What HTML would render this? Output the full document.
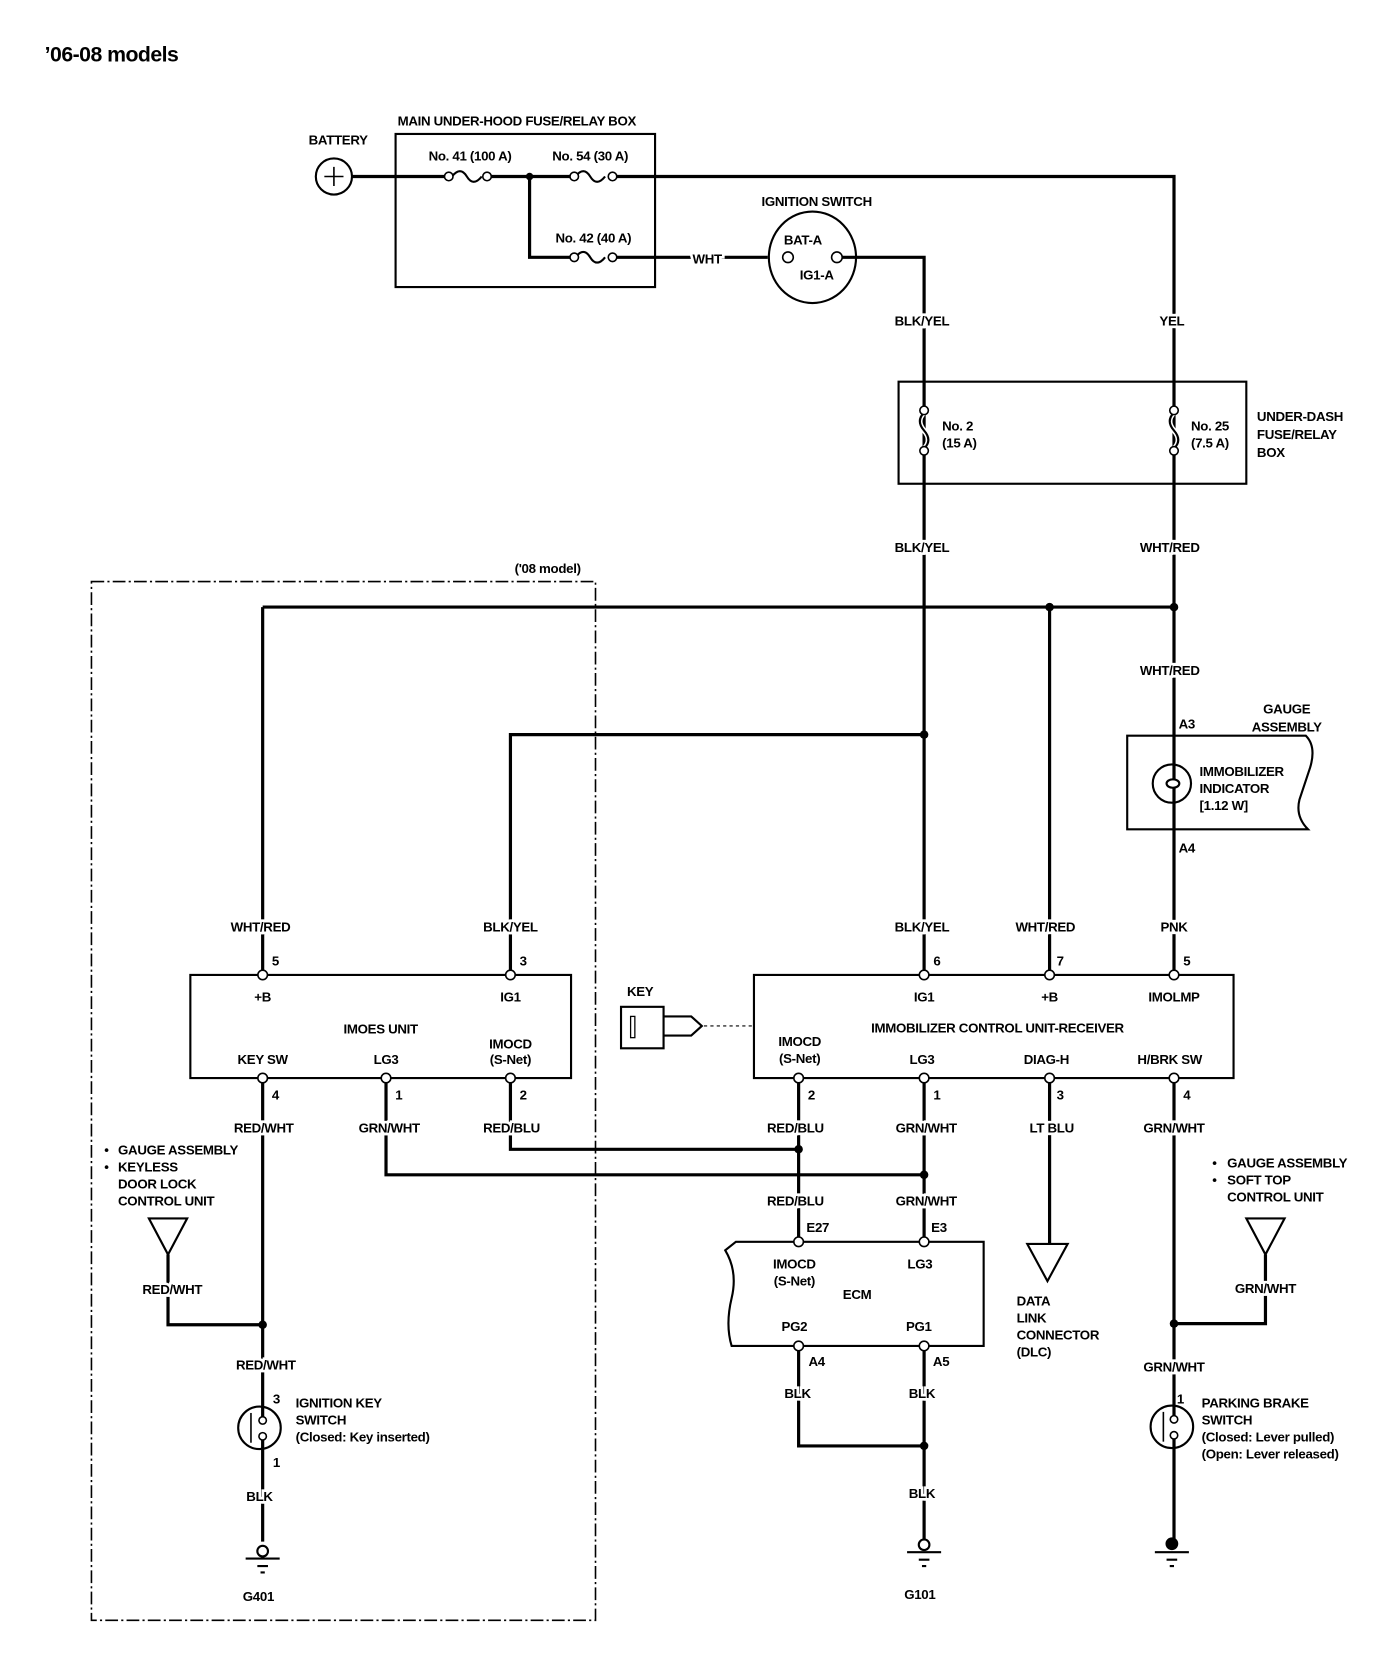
<!DOCTYPE html>
<html><head><meta charset="utf-8"><style>
html,body{margin:0;padding:0;background:#fff;}
svg{display:block;}
text{font-family:"Liberation Sans Narrow","Liberation Sans",sans-serif;font-weight:bold;font-size:12.5px;fill:#000;letter-spacing:-0.3px;}
.l{text-anchor:middle;stroke:#fff;stroke-width:5px;paint-order:stroke;}
.c{text-anchor:middle;}
.w{stroke:#000;stroke-width:3;fill:none;}
.t{stroke:#000;stroke-width:2;fill:none;}
.p{fill:#fff;stroke:#000;stroke-width:1.5;}
</style></head><body>
<svg width="1392" height="1666" viewBox="0 0 1309 1567" preserveAspectRatio="none" xmlns="http://www.w3.org/2000/svg">
<text x="42" y="58" style="font-size:20px;font-family:'Liberation Sans',sans-serif;letter-spacing:-0.5px">’06-08 models</text>

<!-- main underhood box -->
<rect x="372" y="126" width="244" height="144" class="t"/>
<text x="486" y="118" class="c">MAIN UNDER-HOOD FUSE/RELAY BOX</text>
<circle cx="314" cy="166" r="17" class="t"/>
<path d="M305 166h18M314 157v18" stroke="#000" stroke-width="1.5"/>
<text x="318" y="136" class="c">BATTERY</text>
<path d="M331 166H418M460 166H538M580 166H1104V917M1104 1014V1450" class="w"/>
<path d="M498 166V242H538M580 242H722" class="w"/>
<path d="M425 166q8 -10 14 0t14 0" class="t"/><circle cx="422" cy="166" r="4" class="p"/><circle cx="458" cy="166" r="4" class="p"/>
<path d="M541 166q8 -10 14 0t14 0" class="t"/><circle cx="540" cy="166" r="4" class="p"/><circle cx="576" cy="166" r="4" class="p"/>
<path d="M541 242q8 -10 14 0t14 0" class="t"/><circle cx="540" cy="242" r="4" class="p"/><circle cx="576" cy="242" r="4" class="p"/>
<circle cx="498" cy="166" r="3.5"/>
<text x="442" y="151" class="c">No. 41 (100 A)</text>
<text x="555" y="151" class="c">No. 54 (30 A)</text>
<text x="558" y="228" class="c">No. 42 (40 A)</text>
<text x="665" y="248" class="l">WHT</text>
<!-- ignition switch -->
<ellipse cx="764" cy="242" rx="41" ry="43" class="t"/>
<circle cx="741" cy="242" r="5" class="p"/><circle cx="787" cy="242" r="5" class="p"/>
<text x="768" y="194" class="c">IGNITION SWITCH</text>
<text x="755" y="230" class="c">BAT-A</text>
<text x="768" y="263" class="c">IG1-A</text>
<path d="M792 242H869V917" class="w"/>
<text x="867" y="306" class="l">BLK/YEL</text>
<text x="1102" y="306" class="l">YEL</text>
<!-- under dash -->
<rect x="845" y="359" width="327" height="96" class="t"/>
<path d="M869 388q-8 8 0 17t0 17" class="t" style="stroke:#fff;stroke-width:5"/>
<path d="M869 388q-8 8 0 17t0 17" class="t"/>
<path d="M1104 388q-8 8 0 17t0 17" class="t" style="stroke:#fff;stroke-width:5"/>
<path d="M1104 388q-8 8 0 17t0 17" class="t"/>
<circle cx="869" cy="386" r="4" class="p"/><circle cx="869" cy="424" r="4" class="p"/>
<circle cx="1104" cy="386" r="4" class="p"/><circle cx="1104" cy="424" r="4" class="p"/>
<text x="886" y="405">No. 2</text><text x="886" y="421">(15 A)</text>
<text x="1120" y="405">No. 25</text><text x="1120" y="421">(7.5 A)</text>
<text x="1182" y="396">UNDER-DASH</text><text x="1182" y="413">FUSE/RELAY</text><text x="1182" y="430">BOX</text>
<text x="867" y="519" class="l">BLK/YEL</text>
<text x="1100" y="519" class="l">WHT/RED</text>
<!-- buses -->
<path d="M247 571H1104M987 571V917M247 571V917M480 917V691H869" class="w"/>
<circle cx="987" cy="571" r="4"/><circle cx="1104" cy="571" r="4"/><circle cx="869" cy="691" r="4"/>
<text x="1100" y="635" class="l">WHT/RED</text>
<!-- gauge -->
<path d="M1060 692H1228q10 10 4 30l-10 30q-4 16 8 28H1060Z" class="t"/>
<circle cx="1102" cy="737" r="18" class="t"/>
<ellipse cx="1103" cy="737" rx="6" ry="4" class="t" style="fill:#fff"/>
<text x="1116" y="685" class="c">A3</text>
<text x="1210" y="671" class="c">GAUGE</text><text x="1210" y="688" class="c">ASSEMBLY</text>
<text x="1128" y="730">IMMOBILIZER</text><text x="1128" y="746">INDICATOR</text><text x="1128" y="762">[1.12 W]</text>
<text x="1116" y="802" class="c">A4</text>
<!-- dashed '08 box -->
<path d="M86 547H560V1524H86Z" fill="none" stroke="#000" stroke-width="1.5" stroke-dasharray="12 3 2 3"/>
<text x="515" y="539" class="c">('08 model)</text>
<!-- labels -->
<text x="245" y="876" class="l">WHT/RED</text>
<text x="480" y="876" class="l">BLK/YEL</text>
<text x="867" y="876" class="l">BLK/YEL</text>
<text x="983" y="876" class="l">WHT/RED</text>
<text x="1104" y="876" class="l">PNK</text>
<text x="259" y="908" class="c">5</text><text x="492" y="908" class="c">3</text>
<text x="881" y="908" class="c">6</text><text x="997" y="908" class="c">7</text><text x="1116" y="908" class="c">5</text>
<!-- IMOES -->
<rect x="179" y="917" width="358" height="97" class="t"/>
<text x="247" y="942" class="c">+B</text><text x="480" y="942" class="c">IG1</text>
<text x="358" y="972" class="c">IMOES UNIT</text>
<text x="247" y="1001" class="c">KEY SW</text><text x="363" y="1001" class="c">LG3</text>
<text x="480" y="986" class="c">IMOCD</text><text x="480" y="1001" class="c">(S-Net)</text>
<!-- ICU -->
<rect x="709" y="917" width="451" height="97" class="t"/>
<text x="869" y="942" class="c">IG1</text><text x="987" y="942" class="c">+B</text><text x="1104" y="942" class="c">IMOLMP</text>
<text x="938" y="971" class="c">IMMOBILIZER CONTROL UNIT-RECEIVER</text>
<text x="752" y="984" class="c">IMOCD</text><text x="752" y="1000" class="c">(S-Net)</text>
<text x="867" y="1001" class="c">LG3</text><text x="984" y="1001" class="c">DIAG-H</text><text x="1100" y="1001" class="c">H/BRK SW</text>
<!-- key -->
<text x="602" y="937" class="c">KEY</text>
<rect x="584" y="947" width="40" height="39" class="t"/>
<rect x="593" y="956" width="4" height="20" fill="none" stroke="#000" stroke-width="1.2"/>
<path d="M624 956H650L660 965L650 974H624" class="t"/>
<path d="M662 965H709" stroke="#000" stroke-width="1" stroke-dasharray="3 3"/>
<!-- lower wires -->
<path d="M247 1014V1450M363 1014V1105H869M480 1014V1081H751M751 1014V1168M869 1014V1168M987 1014V1172" class="w"/>
<circle cx="751" cy="1081" r="4"/><circle cx="869" cy="1105" r="4"/>
<text x="259" y="1034" class="c">4</text><text x="375" y="1034" class="c">1</text><text x="492" y="1034" class="c">2</text>
<text x="763" y="1034" class="c">2</text><text x="881" y="1034" class="c">1</text><text x="997" y="1034" class="c">3</text><text x="1116" y="1034" class="c">4</text>
<text x="248" y="1065" class="l">RED/WHT</text><text x="366" y="1065" class="l">GRN/WHT</text><text x="481" y="1065" class="l">RED/BLU</text>
<text x="748" y="1065" class="l">RED/BLU</text><text x="871" y="1065" class="l">GRN/WHT</text><text x="989" y="1065" class="l">LT BLU</text><text x="1104" y="1065" class="l">GRN/WHT</text>
<text x="748" y="1134" class="l">RED/BLU</text><text x="871" y="1134" class="l">GRN/WHT</text>
<text x="769" y="1159" class="c">E27</text><text x="883" y="1159" class="c">E3</text>
<!-- ECM -->
<path d="M692 1168H925V1266H688q-6 -20 0 -45t-6 -45Z" class="t"/>
<text x="747" y="1193" class="c">IMOCD</text><text x="747" y="1209" class="c">(S-Net)</text>
<text x="865" y="1193" class="c">LG3</text><text x="806" y="1222" class="c">ECM</text>
<text x="747" y="1252" class="c">PG2</text><text x="864" y="1252" class="c">PG1</text>
<path d="M751 1266V1360H869M869 1266V1450" class="w"/>
<circle cx="869" cy="1360" r="4"/>
<text x="768" y="1285" class="c">A4</text><text x="885" y="1285" class="c">A5</text>
<text x="750" y="1315" class="l">BLK</text><text x="867" y="1315" class="l">BLK</text>
<text x="867" y="1409" class="l">BLK</text>
<circle cx="869" cy="1453" r="5" class="p" style="stroke-width:2"/>
<path d="M853 1460H885M864 1467h10M867 1473h4" stroke="#000" stroke-width="2"/>
<text x="865" y="1504" class="c">G101</text>
<circle cx="751" cy="1168" r="4.5" class="p"/><circle cx="869" cy="1168" r="4.5" class="p"/>
<circle cx="751" cy="1266" r="4.5" class="p"/><circle cx="869" cy="1266" r="4.5" class="p"/>
<!-- DLC -->
<path d="M966 1170H1004L985 1205Z" class="t" style="fill:#fff"/>
<text x="956" y="1228">DATA</text><text x="956" y="1244">LINK</text><text x="956" y="1260">CONNECTOR</text><text x="956" y="1276">(DLC)</text>
<!-- right gauge -->
<text x="1140" y="1098">•</text><text x="1154" y="1098">GAUGE ASSEMBLY</text>
<text x="1140" y="1114">•</text><text x="1154" y="1114">SOFT TOP</text>
<text x="1154" y="1130">CONTROL UNIT</text>
<path d="M1172 1146H1208L1190 1180Z" class="t"/>
<path d="M1190 1180V1245H1104" class="w"/>
<circle cx="1104" cy="1245" r="4"/>
<text x="1190" y="1216" class="l">GRN/WHT</text>
<text x="1104" y="1290" class="l">GRN/WHT</text>
<text x="1110" y="1320" class="c">1</text>
<circle cx="1102" cy="1342" r="20" class="t" style="fill:#fff"/>
<path d="M1094 1328V1356" stroke="#000" stroke-width="1.5"/>
<path d="M1104 1322V1332M1104 1352V1362" class="w"/>
<circle cx="1104" cy="1335" r="3.5" class="p"/><circle cx="1104" cy="1350" r="3.5" class="p"/>
<text x="1130" y="1324">PARKING BRAKE</text><text x="1130" y="1340">SWITCH</text>
<text x="1130" y="1356">(Closed: Lever pulled)</text><text x="1130" y="1372">(Open: Lever released)</text>
<circle cx="1102" cy="1452" r="6"/>
<path d="M1086 1460H1118M1097 1467h10M1100 1473h4" stroke="#000" stroke-width="2"/>
<!-- left gauge -->
<text x="98" y="1086">•</text><text x="111" y="1086">GAUGE ASSEMBLY</text>
<text x="98" y="1102">•</text><text x="111" y="1102">KEYLESS</text>
<text x="111" y="1118">DOOR LOCK</text><text x="111" y="1134">CONTROL UNIT</text>
<path d="M140 1146H176L158 1180Z" class="t"/>
<path d="M158 1180V1246H247" class="w"/>
<circle cx="247" cy="1246" r="4"/>
<text x="162" y="1217" class="l">RED/WHT</text>
<text x="250" y="1288" class="l">RED/WHT</text>
<text x="260" y="1320" class="c">3</text><text x="260" y="1380" class="c">1</text>
<circle cx="244" cy="1343" r="20" class="t" style="fill:#fff"/>
<path d="M236 1329V1357" stroke="#000" stroke-width="1.5"/>
<path d="M247 1323V1333M247 1353V1363" class="w"/>
<circle cx="247" cy="1336" r="3.5" class="p"/><circle cx="247" cy="1351" r="3.5" class="p"/>
<text x="278" y="1324">IGNITION KEY</text><text x="278" y="1340">SWITCH</text><text x="278" y="1356">(Closed: Key inserted)</text>
<text x="244" y="1412" class="l">BLK</text>
<circle cx="247" cy="1459" r="5" class="p" style="stroke-width:2"/>
<path d="M231 1466H263M242 1473h10M245 1479h4" stroke="#000" stroke-width="2"/>
<text x="243" y="1506" class="c">G401</text>
<!-- pins -->
<g class="p">
<circle cx="247" cy="917" r="4.5"/><circle cx="480" cy="917" r="4.5"/>
<circle cx="869" cy="917" r="4.5"/><circle cx="987" cy="917" r="4.5"/><circle cx="1104" cy="917" r="4.5"/>
<circle cx="247" cy="1014" r="4.5"/><circle cx="363" cy="1014" r="4.5"/><circle cx="480" cy="1014" r="4.5"/>
<circle cx="751" cy="1014" r="4.5"/><circle cx="869" cy="1014" r="4.5"/><circle cx="987" cy="1014" r="4.5"/><circle cx="1104" cy="1014" r="4.5"/>
</g>
</svg>
</body></html>
